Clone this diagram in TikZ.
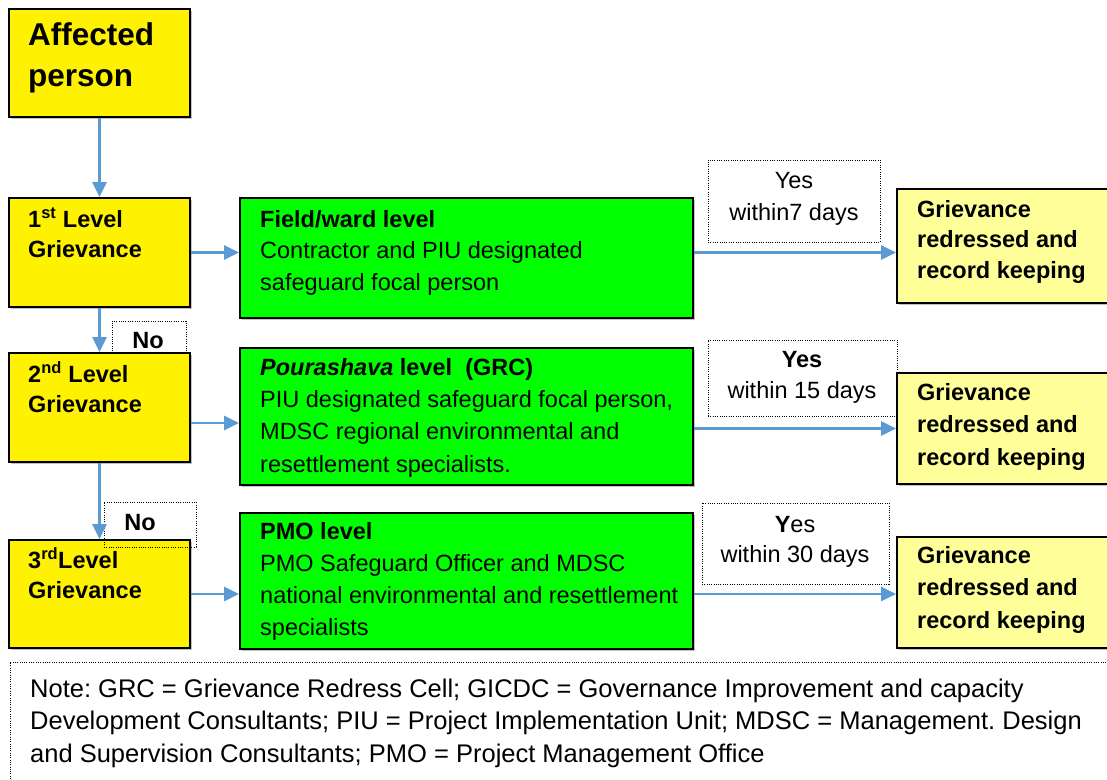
\documentclass[tikz,border=0pt]{standalone}
\usepackage{fontspec}
\setmainfont{Liberation Sans}
\usetikzlibrary{arrows.meta,fit,shadows}
\definecolor{arrowblue}{HTML}{5B9BD5}
\definecolor{ygreen}{HTML}{00FF00}
\definecolor{lyellow}{HTML}{FFFF99}
\frenchspacing
\begin{document}
\begin{tikzpicture}[x=1pt,y=-1pt,
  box/.style={draw=black, line width=2pt, inner sep=0pt,
    drop shadow={shadow xshift=1.5pt,shadow yshift=-1.5pt,fill=black!40,opacity=0.6}},
  ybox/.style={box, fill=yellow},
  gbox/.style={box, fill=ygreen},
  rbox/.style={box, fill=lyellow},
  dotbox/.style={draw=black, line width=1pt, dash pattern=on 1pt off 1.3pt, inner sep=0pt},
  txt/.style={inner sep=0pt, anchor=base west, align=left, font=\fontsize{23.5}{31.5}\selectfont},
  btxt/.style={inner sep=0pt, anchor=base west, align=left, font=\fontsize{23.5}{29.5}\selectfont\bfseries},
  ctxt/.style={inner sep=0pt, anchor=base, align=center, font=\fontsize{23.5}{31.5}\selectfont},
  flow/.style={draw=arrowblue, line width=2.8pt, -{Triangle[length=15pt,width=14pt]}}
]
\fill[white] (0,0) rectangle (1107,779);
\useasboundingbox (0,0) rectangle (1107,779);

% left column (text nodes anchored at the baseline of their last line)
\node[ybox, fit={(9,9)(190,117)}] (ap) {};
\node[btxt, font=\fontsize{31.5}{41}\selectfont\bfseries] (apt) at (28,86) {Affected\\person};

\node[ybox, fit={(9,198)(190,307)}] (l1) {};
\node[btxt] (l1t) at (28,257) {1\textsuperscript{st} Level\\Grievance};

\node[dotbox, fit={(112,321)(186,353)}] (no1) {};
\node[inner sep=0pt, anchor=base, font=\fontsize{23.5}{28}\selectfont\bfseries] (no1t) at (148,348) {No};

\node[ybox, fit={(9,353)(190,462)}] (l2) {};
\node[btxt] (l2t) at (28,412) {2\textsuperscript{nd} Level\\Grievance};

\node[ybox, fit={(9,540)(190,648)}] (l3) {};
\node[btxt] (l3t) at (28,598) {3\textsuperscript{rd}Level\\Grievance};

\node[dotbox, fit={(104,502)(196,547)}] (no2) {};
\node[inner sep=0pt, anchor=base, font=\fontsize{23.5}{28}\selectfont\bfseries] (no2t) at (140,530) {No};

% green column
\node[gbox, fit={(240,198)(693,318)}] (g1) {};
\node[txt] (g1t) at (260,290) {\textbf{Field/ward level}\\Contractor and PIU designated\\safeguard focal person};

\node[gbox, fit={(240,348)(693,485)}] (g2) {};
\node[txt, font=\fontsize{23.5}{32.3}\selectfont] (g2t) at (260,472) {\textbf{\textit{Pourashava} level\ \ (GRC)}\\PIU designated safeguard focal person,\\MDSC regional environmental and\\resettlement specialists.};

\node[gbox, fit={(240,513)(693,649)}] (g3) {};
\node[txt, font=\fontsize{23.5}{31.7}\selectfont] (g3t) at (260,635) {\textbf{PMO level}\\PMO Safeguard Officer and MDSC\\national environmental and resettlement\\specialists};

% yes boxes
\node[dotbox, fit={(708,160)(880,242)}] (y1) {};
\node[ctxt, font=\fontsize{23.5}{32}\selectfont] (y1t) at (794,220) {Yes\\within7 days};

\node[dotbox, fit={(708,340)(897,416)}] (y2) {};
\node[ctxt, font=\fontsize{23.5}{31}\selectfont] (y2t) at (802,398) {\textbf{Yes}\\within 15 days};

\node[dotbox, fit={(702,503)(889,584)}] (y3) {};
\node[ctxt, font=\fontsize{23.5}{30}\selectfont] (y3t) at (795,562) {\textbf{Y}es\\within 30 days};

% right column
\node[rbox, fit={(897,189)(1125,303)}] (r1) {};
\node[btxt, font=\fontsize{23.5}{30.5}\selectfont\bfseries] (r1t) at (917,278) {Grievance\\redressed and\\record keeping};

\node[rbox, fit={(897,373)(1125,484)}] (r2) {};
\node[btxt, font=\fontsize{23.5}{32.5}\selectfont\bfseries] (r2t) at (917,465) {Grievance\\redressed and\\record keeping};

\node[rbox, fit={(897,537)(1125,648)}] (r3) {};
\node[btxt, font=\fontsize{23.5}{32.5}\selectfont\bfseries] (r3t) at (917,628) {Grievance\\redressed and\\record keeping};

% note
\node[dotbox, fit={(10,662)(1125,800)}] (note) {};
\node[txt, font=\fontsize{25.5}{32.5}\selectfont] (notet) at (30,762) {Note: GRC = Grievance Redress Cell; GICDC = Governance Improvement and capacity\\Development Consultants; PIU = Project Implementation Unit; MDSC = Management. Design\\and Supervision Consultants; PMO = Project Management Office};

% connectors
\draw[flow] (ap.south) -- (l1.north);
\draw[flow] (l1.south) -- (l2.north);
\draw[flow] (l2.south) -- (l3.north);

\draw[flow] (l1.east) -- (l1.east -| g1.west);
\draw[flow] (l1.east -| g1.east) -- (l1.east -| r1.west);

\coordinate (a2) at ([yshift=-15.5pt]l2.east);
\draw[flow] (a2) -- (a2 -| g2.west);
\draw[flow] (r2.west -| g2.east) -- (r2.west);

\draw[flow] (l3.east) -- (l3.east -| g3.west);
\draw[flow] (l3.east -| g3.east) -- (l3.east -| r3.west);
\end{tikzpicture}
\end{document}
